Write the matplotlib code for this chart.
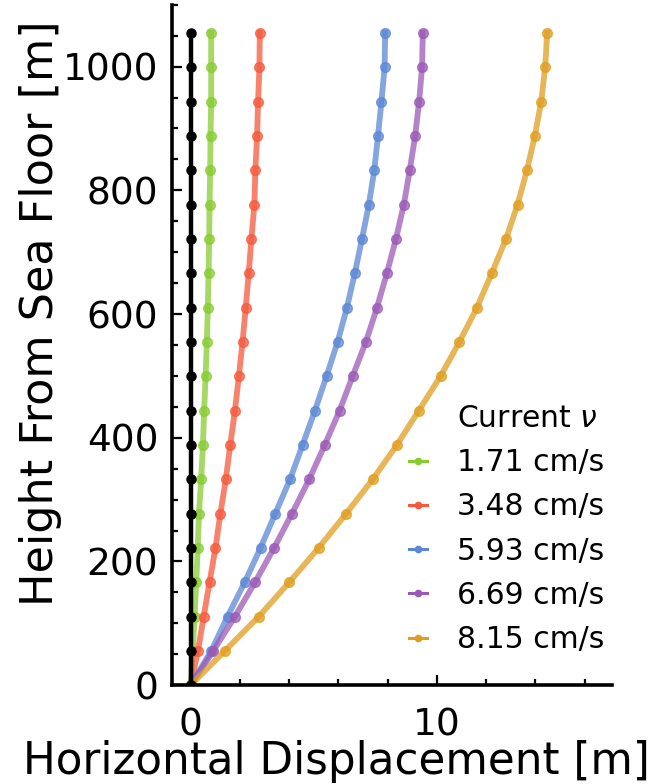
import numpy as np
import matplotlib
matplotlib.use("Agg")
import matplotlib.pyplot as plt
from matplotlib.ticker import MultipleLocator

# heights of the mooring nodes above the sea floor [m]
heights = [0, 55.5, 111, 166.5, 222, 277.5, 333, 388.5, 444, 499.5, 555,
           610.5, 666, 721.5, 777, 832.5, 888, 943.5, 999, 1054.5]

# horizontal displacement [m] for each current speed
disp_still = [0.0] * 20
disp_171 = [0, 0.09, 0.16, 0.23, 0.29, 0.34, 0.43, 0.50, 0.55, 0.61, 0.66,
            0.70, 0.73, 0.755, 0.77, 0.795, 0.81, 0.835, 0.835, 0.835]
disp_348 = [0, 0.30, 0.53, 0.77, 1.01, 1.21, 1.43, 1.61, 1.80, 1.96, 2.11,
            2.24, 2.36, 2.47, 2.59, 2.63, 2.70, 2.74, 2.795, 2.81]
disp_593 = [0, 0.84, 1.50, 2.20, 2.84, 3.44, 4.04, 4.55, 5.05, 5.52, 5.97,
            6.35, 6.67, 6.96, 7.24, 7.46, 7.61, 7.75, 7.88, 7.90]
disp_669 = [0, 0.92, 1.80, 2.62, 3.39, 4.12, 4.82, 5.45, 6.05, 6.58, 7.12,
            7.57, 7.97, 8.34, 8.66, 8.90, 9.12, 9.28, 9.40, 9.43]
disp_815 = [0, 1.39, 2.77, 4.01, 5.20, 6.32, 7.40, 8.38, 9.27, 10.15, 10.92,
            11.63, 12.23, 12.81, 13.28, 13.66, 13.98, 14.24, 14.40, 14.48]

labels = ["1.71 cm/s", "3.48 cm/s", "5.93 cm/s", "6.69 cm/s", "8.15 cm/s"]
series = [disp_171, disp_348, disp_593, disp_669, disp_815]
colors = ["#88cc33", "#f55a3c", "#5b87d4", "#9b59b6", "#e09e20"]

plt.rcParams['font.family'] = ['DejaVu Sans']

fig = plt.figure(figsize=(6.57, 7.84), dpi=100)
ax = fig.add_axes([0.262, 0.126, 0.669, 0.868])

ax.plot(disp_still, heights, color="black", lw=3.2, marker="o", ms=6.5, zorder=5)
for d, lab, c in zip(series, labels, colors):
    ax.plot(d, heights, color=c, lw=4.2, marker="o", ms=7, alpha=0.75, label=lab)

# blank entry used as legend heading
ax.plot([], [], " ", label=r"Current $\nu$")
h, l = ax.get_legend_handles_labels()
h = h[-1:] + h[:-1]
l = l[-1:] + l[:-1]
leg = ax.legend(h, l, loc="lower right", bbox_to_anchor=(1.03, 0.015), frameon=False,
                fontsize=21.5, handlelength=0.6, handletextpad=1.0, labelspacing=0.51,
                borderpad=0.2)
for lh in leg.legend_handles[1:]:
    lh.set_linewidth(2.2)
    lh.set_markersize(4.5)
    lh.set_alpha(1)

ax.set_xlim(-0.75, 17.1)
ax.set_ylim(0, 1100)
ax.xaxis.set_major_locator(MultipleLocator(10))
ax.xaxis.set_minor_locator(MultipleLocator(2))
ax.yaxis.set_major_locator(MultipleLocator(200))
ax.yaxis.set_minor_locator(MultipleLocator(50))
ax.tick_params(which="both", direction="in", width=1.6, labelsize=27)
ax.tick_params(axis="y", pad=10)
ax.tick_params(axis="x", pad=16)
ax.tick_params(which="major", length=7)
ax.tick_params(which="minor", length=4.5)
for s in ["top", "right"]:
    ax.spines[s].set_visible(False)
for s in ["left", "bottom"]:
    ax.spines[s].set_linewidth(2.6)

ax.set_xlabel("Horizontal Displacement [m]", fontsize=31.4, labelpad=0)
ax.xaxis.set_label_coords(0.373, -0.08)
ax.set_ylabel("Height From Sea Floor [m]", fontsize=32, labelpad=8)
ax.yaxis.set_label_coords(-0.25, 0.547)

fig.savefig("out.png", dpi=100)
